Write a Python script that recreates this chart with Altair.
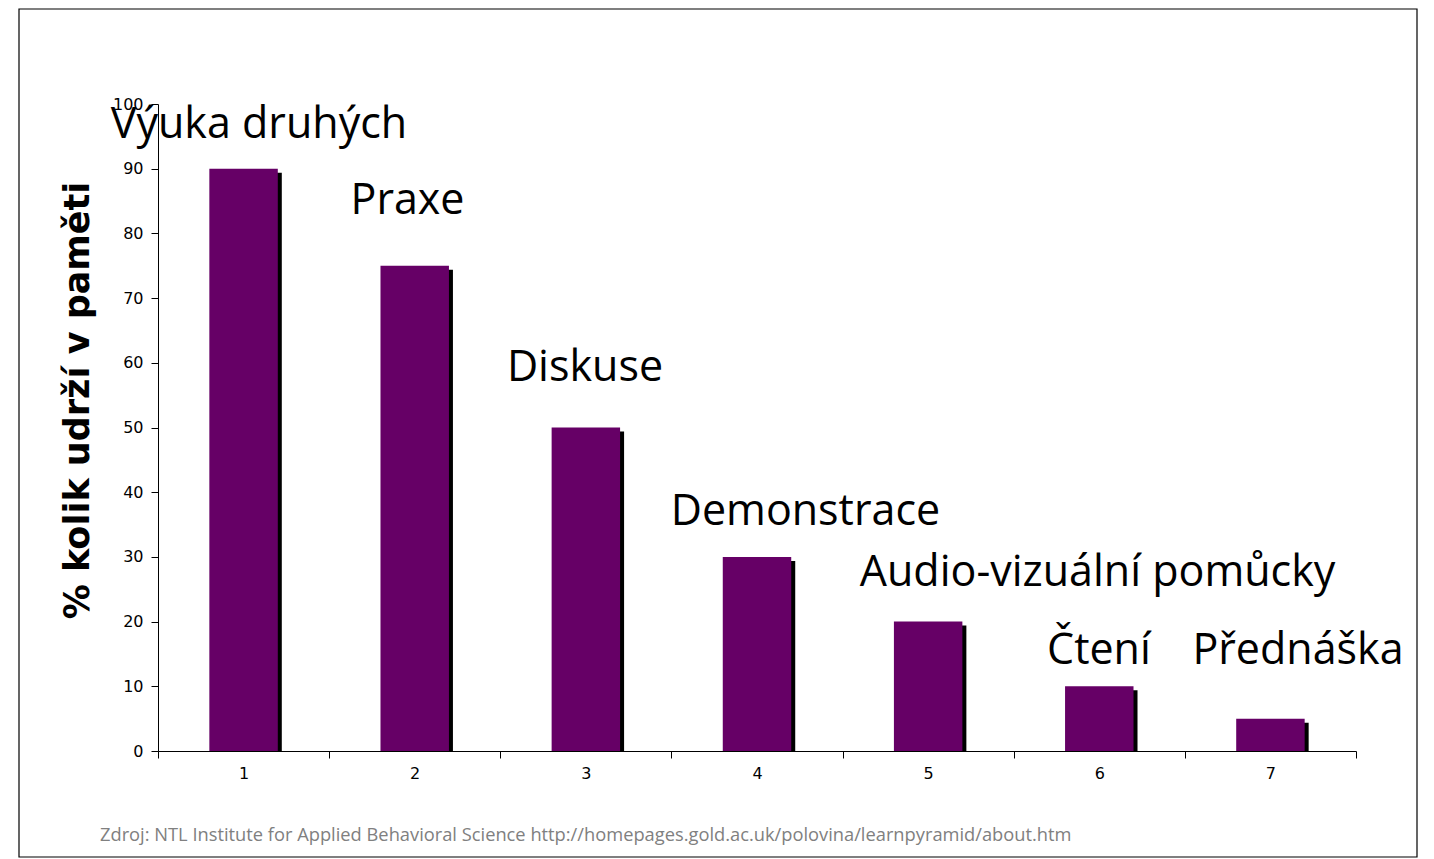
import altair as alt
import pandas as pd

# ---- data ----
categories = [1, 2, 3, 4, 5, 6, 7]
values = [90, 75, 50, 30, 20, 10, 5]
labels = ["Výuka druhých", "Praxe", "Diskuse", "Demonstrace",
          "Audio-vizuální pomůcky", "Čtení", "Přednáška"]
# annotation anchors in data units (category units / percent)
label_x = [1.090, 1.958, 2.995, 4.283, 5.990, 5.998, 7.161]
label_y = [94.7, 83.0, 57.2, 34.9, 25.5, 13.4, 13.4]
y_ticks = [0, 10, 20, 30, 40, 50, 60, 70, 80, 90, 100]
y_title = "% kolik udrží v paměti"
source_note = ("Zdroj: NTL Institute for Applied Behavioral Science "
               "http://homepages.gold.ac.uk/polovina/learnpyramid/about.htm")

W, H = 1198, 647
PURPLE = "#660066"

bars_df = pd.DataFrame({"kat": categories, "hodnota": values})
labels_df = pd.DataFrame({"text": labels, "lx": label_x, "ly": label_y})
one = pd.DataFrame({"a": [0]})

x_band = alt.X(
    "kat:O",
    scale=alt.Scale(paddingInner=0, paddingOuter=0),
    axis=alt.Axis(
        title=None, labelAngle=0, tickBand="extent", orient="bottom",
        domainColor="black", domainWidth=1, tickColor="black", tickWidth=1,
        tickSize=7, labelFont="DejaVu Sans", labelFontSize=16,
        labelColor="black", labelPadding=7,
    ),
)
y_scale = alt.Scale(domain=[0, 100], nice=False)
y_axis = alt.Axis(
    values=y_ticks, title=y_title, grid=False,
    domainColor="black", domainWidth=1, tickColor="black", tickWidth=1,
    tickSize=7, labelFont="DejaVu Sans", labelFontSize=16,
    labelColor="black", labelPadding=8,
    titleFont="DejaVu Sans", titleFontSize=35, titleFontWeight="bold",
    titleColor="black", titleAngle=270, titleX=-81, titleY=296,
    titleAlign="center", titleBaseline="middle",
)

frame = alt.Chart(one).mark_rect(
    fillOpacity=0, stroke="black", strokeWidth=1.2
).encode(
    x=alt.value(-139), x2=alt.value(1259), y=alt.value(-95), y2=alt.value(753)
)

shadow = alt.Chart(bars_df).mark_bar(
    color="black", width=alt.RelativeBandSize(0.4),
    xOffset=4, yOffset=4, y2Offset=0,
).encode(
    x=x_band,
    y=alt.Y("hodnota:Q", scale=y_scale, axis=y_axis),
    y2=alt.datum(0),
)

bars = alt.Chart(bars_df).mark_bar(
    color=PURPLE, width=alt.RelativeBandSize(0.4)
).encode(
    x=x_band,
    y=alt.Y("hodnota:Q", scale=y_scale, axis=y_axis),
)

bar_group = alt.layer(shadow, bars)

label_layer = alt.Chart(labels_df).mark_text(
    font="Open Sans", fontSize=43, baseline="alphabetic", align="center",
    color="black",
).encode(
    x=alt.X("lx:Q", scale=alt.Scale(domain=[0.5, 7.5], nice=False, zero=False),
            axis=None),
    y=alt.Y("ly:Q", scale=y_scale, axis=y_axis),
    text="text:N",
)

note = alt.Chart(one).mark_text(
    text=source_note, align="left", baseline="alphabetic",
    font="Open Sans", fontSize=18.3, color="#808080",
).encode(x=alt.value(-58), y=alt.value(737))

chart = alt.layer(frame, bar_group, label_layer, note).resolve_scale(
    x="independent"
).properties(
    width=W, height=H,
    padding={"left": 10, "top": 0, "right": 0, "bottom": 0},
    background="white",
).configure_view(stroke=None)

chart.save("out.html", embed_options={"renderer": "svg", "actions": False})
